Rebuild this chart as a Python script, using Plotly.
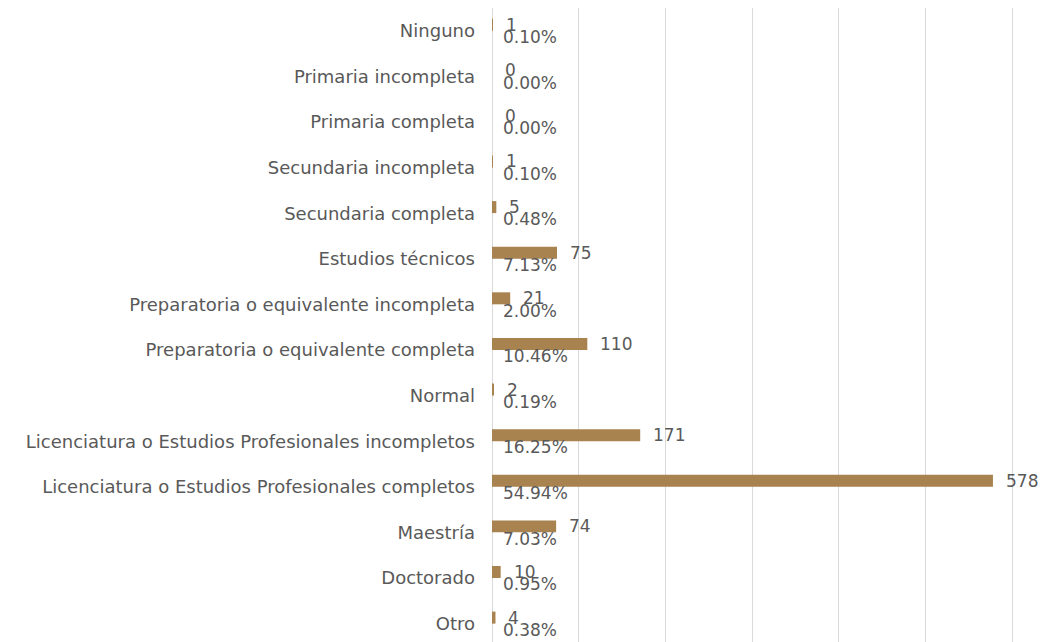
import plotly.graph_objects as go

categories = ["Ninguno", "Primaria incompleta", "Primaria completa", "Secundaria incompleta",
              "Secundaria completa", "Estudios técnicos", "Preparatoria o equivalente incompleta",
              "Preparatoria o equivalente completa", "Normal",
              "Licenciatura o Estudios Profesionales incompletos",
              "Licenciatura o Estudios Profesionales completos", "Maestría", "Doctorado", "Otro"]
counts = [1, 0, 0, 1, 5, 75, 21, 110, 2, 171, 578, 74, 10, 4]
percents = ["0.10%", "0.00%", "0.00%", "0.10%", "0.48%", "7.13%", "2.00%", "10.46%", "0.19%",
            "16.25%", "54.94%", "7.03%", "0.95%", "0.38%"]
x_ticks = [0, 100, 200, 300, 400, 500, 600]

BAR = "#A8824F"
TXT = "#595959"
GRID = "#D9D9D9"
FONT = "DejaVu Sans"
FS = 17

idx = list(range(len(categories)))
off = 0.135

fig = go.Figure()
fig.add_trace(go.Bar(x=counts, y=[i - off for i in idx], orientation="h", width=0.263,
                     marker=dict(color=BAR, line=dict(width=0)), hoverinfo="skip"))

annotations = []
for i, (c, p) in enumerate(zip(counts, percents)):
    annotations.append(dict(x=c, y=i - off, xref="x", yref="y", text=str(c), showarrow=False,
                            xanchor="left", yanchor="middle", xshift=11,
                            font=dict(family=FONT, size=FS, color=TXT)))
    annotations.append(dict(x=0, y=i + off, xref="x", yref="y", text=p, showarrow=False,
                            xanchor="left", yanchor="middle", xshift=9,
                            font=dict(family=FONT, size=FS, color=TXT)))

fig.update_layout(
    width=1043, height=642,
    margin=dict(l=492, r=29, t=8, b=0),
    paper_bgcolor="white", plot_bgcolor="white",
    showlegend=False,
    font=dict(family=FONT, size=FS, color=TXT),
    annotations=annotations,
    xaxis=dict(range=[0, 602.3], tickvals=x_ticks, showticklabels=False, showgrid=True,
               gridcolor=GRID, gridwidth=1.3, zeroline=True, zerolinecolor=GRID,
               zerolinewidth=1.3, showline=False, fixedrange=True),
    yaxis=dict(range=[13.4, -0.5], tickvals=idx, ticktext=categories, showgrid=False,
               zeroline=False, showline=False, ticklabelstandoff=16, fixedrange=True,
               tickfont=dict(family=FONT, size=18, color=TXT)),
)

# remove the default page margin so the figure fills the window exactly
fig.write_html("out.html", config={"displayModeBar": False},
               post_script="document.body.style.margin='0';document.body.style.overflow='hidden';")
